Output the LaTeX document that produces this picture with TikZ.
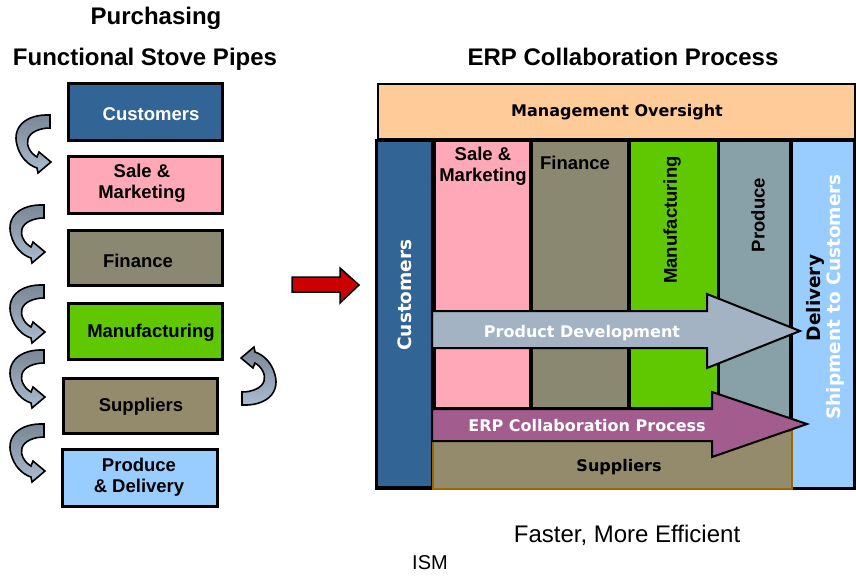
\documentclass[tikz,border=0pt]{standalone}
\usepackage{fontspec}
\setmainfont{Liberation Sans}
\newfontfamily\dv{DejaVu Sans}
\definecolor{cCust}{RGB}{50,100,150}
\definecolor{cPink}{RGB}{255,168,184}
\definecolor{cFin}{RGB}{138,136,112}
\definecolor{cGreen}{RGB}{95,200,0}
\definecolor{cProd}{RGB}{136,160,168}
\definecolor{cDeliv}{RGB}{153,204,255}
\definecolor{cMgmt}{RGB}{255,204,153}
\definecolor{cSupp}{RGB}{148,138,108}
\definecolor{cPD}{RGB}{163,179,195}
\definecolor{cERP}{RGB}{163,92,142}
\definecolor{cSuppBorder}{RGB}{153,102,0}
\definecolor{cArrowDark}{RGB}{120,134,148}
\definecolor{cArrowLight}{RGB}{170,188,208}
\definecolor{cRed}{RGB}{204,0,0}
\tikzset{
  leftbox/.style={draw=black, line width=3pt},
  boxtext/.style={font=\fontsize{18.5}{21}\selectfont\bfseries, align=center, inner sep=0pt},
  coltext/.style={font=\fontsize{18.5}{21}\selectfont\bfseries, align=center, inner sep=0pt},
  dvtext/.style={font=\dv\fontsize{18.5}{21}\selectfont\bfseries, inner sep=0pt},
  dvsmall/.style={font=\dv\fontsize{16}{19}\selectfont\bfseries, inner sep=0pt},
  titletext/.style={font=\fontsize{24}{28}\selectfont\bfseries, inner sep=0pt, anchor=base},
  bigarrow/.style={draw=black, line width=2pt, line join=miter},
  carrow/.pic={
    \path[draw=black, line width=1.6pt, line join=miter, top color=cArrowDark, bottom color=cArrowLight]
      (0,0) .. controls (-24,-1) and (-38,12) .. (-33,30)
      .. controls (-30,42) and (-22,50) .. (-13,53)
      -- (-12,58) -- (1,47) -- (-11,37) -- (-13,42)
      .. controls (-20,38) and (-24,30) .. (-22,24)
      .. controls (-20,17) and (-10,13) .. (0,13) -- cycle;
  }
}
\begin{document}
\begin{tikzpicture}[x=1pt,y=-1pt]
\useasboundingbox[fill=white] (0,0) rectangle (856,576);

% titles
\node[titletext] (tpurch) at (156,24) {Purchasing};
\node[titletext] (tfunc) at (145,65) {Functional Stove Pipes};
\node[titletext] (terp) at (623,65) {ERP Collaboration Process};

% left stove pipes
\draw[leftbox, fill=cCust] (68.5,83.5) rectangle (222.5,140.5);
\node[boxtext, text=white] (lcust) at (151,114) {Customers};
\draw[leftbox, fill=cPink] (68.5,156.5) rectangle (222.5,213.5);
\node[boxtext] (lsale) at (142,183) {Sale \&\\Marketing};
\draw[leftbox, fill=cFin] (68.5,230.5) rectangle (222.5,285.5);
\node[boxtext] (lfin) at (138,261) {Finance};
\draw[leftbox, fill=cGreen] (68.5,303.5) rectangle (222.5,359.5);
\node[boxtext] (lmanu) at (151,333) {Manufacturing};
\draw[leftbox, fill=cSupp] (63.5,378.5) rectangle (217.5,433.5);
\node[boxtext] (lsupp) at (141,407) {Suppliers};
\draw[leftbox, fill=cDeliv] (62.5,449.5) rectangle (217.5,506.5);
\node[boxtext] (lprod) at (139,477) {Produce\\\& Delivery};

% curved arrows
\pic at (50,115) {carrow};
\pic at (44,205) {carrow};
\pic at (44,285) {carrow};
\pic at (44,350) {carrow};
\pic at (44,424) {carrow};
\pic[rotate=180] at (242,405) {carrow};

% red arrow
\draw[fill=cRed, draw=black, line width=1.5pt, line join=miter]
  (292,277) -- (340,277) -- (340,268) -- (359,285) -- (340,303) -- (340,292) -- (292,292) -- cycle;

% ERP collaboration frame
\fill[black] (375,139) rectangle (856,490);
\draw[fill=cMgmt, draw=black, line width=2pt] (378,84) rectangle (855,139);
\node[dvsmall] (mgmt) at (617,112) {Management Oversight};

\fill[cCust] (378,142) rectangle (431,486);
\fill[cPink] (436,142) rectangle (529,407);
\fill[cFin] (533,142) rectangle (627,407);
\fill[cGreen] (631,142) rectangle (717,407);
\fill[cProd] (720,142) rectangle (789,430);
\fill[cDeliv] (793,142) rectangle (853,487);
\draw[fill=cSupp, draw=cSuppBorder, line width=2pt] (433,431) rectangle (792,489);

\node[dvtext, text=white, rotate=90] (rcust) at (405,295) {Customers};
\node[coltext] (rsale) at (483,166) {Sale \&\\Marketing};
\node[coltext] (rfin) at (575,163) {Finance};
\node[coltext, rotate=90] (rmanu) at (672,220) {Manufacturing};
\node[coltext, rotate=90] (rprod) at (758,215) {Produce};
\node[dvtext, rotate=90] (rdeliv) at (815,298) {Delivery};
\node[dvtext, text=white, rotate=90] (rship) at (835,297) {Shipment to Customers};
\node[dvsmall] (rsupp) at (619,467) {Suppliers};

% process arrows
\draw[bigarrow, fill=cPD]
  (432,311) -- (707,311) -- (707,294) -- (800,331) -- (707,368) -- (707,348) -- (432,348) -- cycle;
\node[dvsmall, text=white] (pd) at (582,333) {Product Development};
\draw[bigarrow, fill=cERP]
  (432,409) -- (712,409) -- (712,392) -- (807,424) -- (712,457) -- (712,441) -- (432,441) -- cycle;
\node[dvsmall, text=white] (erp) at (587,426) {ERP Collaboration Process};

% captions
\node[font=\fontsize{24}{28}\selectfont, inner sep=0pt, anchor=base] (faster) at (627,542) {Faster, More Efficient};
\node[font=\fontsize{20}{24}\selectfont, inner sep=0pt, anchor=base] (ism) at (430,569) {ISM};
\end{tikzpicture}
\end{document}
